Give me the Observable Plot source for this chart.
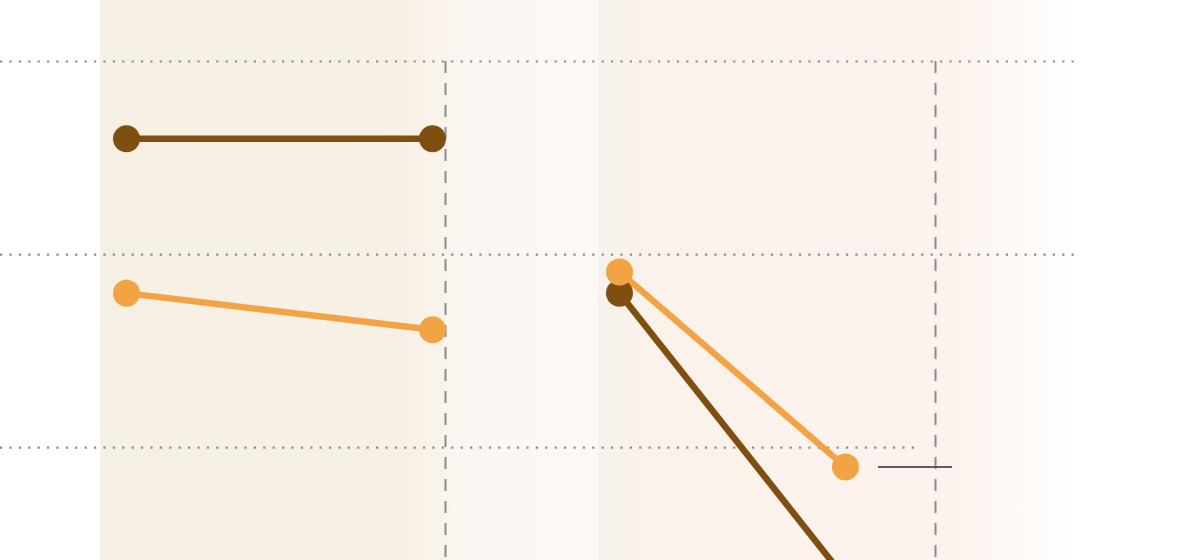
<!DOCTYPE html>
<html>
<head>
<meta charset="utf-8">
<script src="https://cdn.jsdelivr.net/npm/d3@7"></script>
<script src="https://cdn.jsdelivr.net/npm/@observablehq/plot@0.6"></script>
<style>
  html, body { margin: 0; padding: 0; background: #fff; overflow: hidden; }
  #chart svg { display: block; }
</style>
</head>
<body>
<div id="chart"></div>
<script>
// ---- data ----
// time axis in abstract units; value axis in percent
const periods = ["A", "B"];
const periodStart = [10, 59.8];
const periodEnd = [59.8, 107.5];
const periodGradient = ["url(#gradA)", "url(#gradB)"];

const seriesNames = ["dark", "light"];
const seriesColors = ["#7f4e10", "#f2a445"];

// left period
const leftX = [12.6, 43.2];
const leftDark = [26.0, 26.0];
const leftLight = [18.0, 16.1];
// right period
const rightX = [61.9, 84.5];
const rightDark = [18.0, 3.2];
const rightLight = [19.1, 9.0];

const gridValues = [30, 20, 10];
const gridEnds = [108, 108, 92];
const dashedX = [44.5, 93.5];
const annotationValue = 9.0;
const annotationX = [87.8, 95.2];

const xDomain = [0, 120];
const yDomain = [4.15, 33.16];

// ---- build tables ----
const panels = periods.map((p, i) => ({period: p, x1: periodStart[i], x2: periodEnd[i], fill: periodGradient[i]}));
const points = [];
[[leftX, leftDark, leftLight, "A"], [rightX, rightDark, rightLight, "B"]].forEach(([xs, d, l, p]) => {
  xs.forEach((x, j) => {
    points.push({period: p, series: "dark", x, y: d[j]});
    points.push({period: p, series: "light", x, y: l[j]});
  });
});
const grid = gridValues.map((v, i) => ({y: v, x2: gridEnds[i]}));

const defs = () => {
  const ns = "http://www.w3.org/2000/svg";
  const d = document.createElementNS(ns, "defs");
  d.innerHTML = `
    <linearGradient id="gradA" x1="0" x2="1" y1="0" y2="0">
      <stop offset="0" stop-color="#f6f0e4"/>
      <stop offset="0.6" stop-color="#f8f0e6"/>
      <stop offset="0.75" stop-color="#fcf6f2"/>
      <stop offset="1" stop-color="#fdf9f7"/>
    </linearGradient>
    <linearGradient id="gradB" x1="0" x2="1" y1="0" y2="0">
      <stop offset="0" stop-color="#f7f2ea"/>
      <stop offset="0.15" stop-color="#fbf2ec"/>
      <stop offset="0.75" stop-color="#fdf3ee"/>
      <stop offset="1" stop-color="#ffffff"/>
    </linearGradient>`;
  return d;
};

const color = {domain: seriesNames, range: seriesColors};

const chart = Plot.plot({
  width: 1200,
  height: 560,
  margin: 0,
  style: {background: "#ffffff"},
  x: {domain: xDomain, axis: null},
  y: {domain: yDomain, axis: null},
  color: {...color, legend: false},
  marks: [
    defs,
    Plot.rect(panels, {x1: "x1", x2: "x2", fill: d => d.fill}),
    Plot.ruleY(grid, {y: "y", x1: 0, x2: "x2", stroke: "#8c8c8c", strokeWidth: 2.2, strokeDasharray: "2.2,7.2", strokeLinecap: "butt"}),
    Plot.ruleX(dashedX, {x: d => d, y1: gridValues[0], y2: yDomain[0], stroke: "#8c8c8c", strokeWidth: 2, strokeDasharray: "12,10"}),
    Plot.ruleY([annotationValue], {x1: annotationX[0], x2: annotationX[1], stroke: "#5e5e5e", strokeWidth: 2}),
    Plot.line(points, {x: "x", y: "y", z: d => d.period + d.series, stroke: "series", strokeWidth: 6.5, clip: true}),
    Plot.dot(points, {x: "x", y: "y", fill: "series", r: 13.5, clip: true})
  ]
});
document.getElementById("chart").appendChild(chart);
</script>
</body>
</html>
